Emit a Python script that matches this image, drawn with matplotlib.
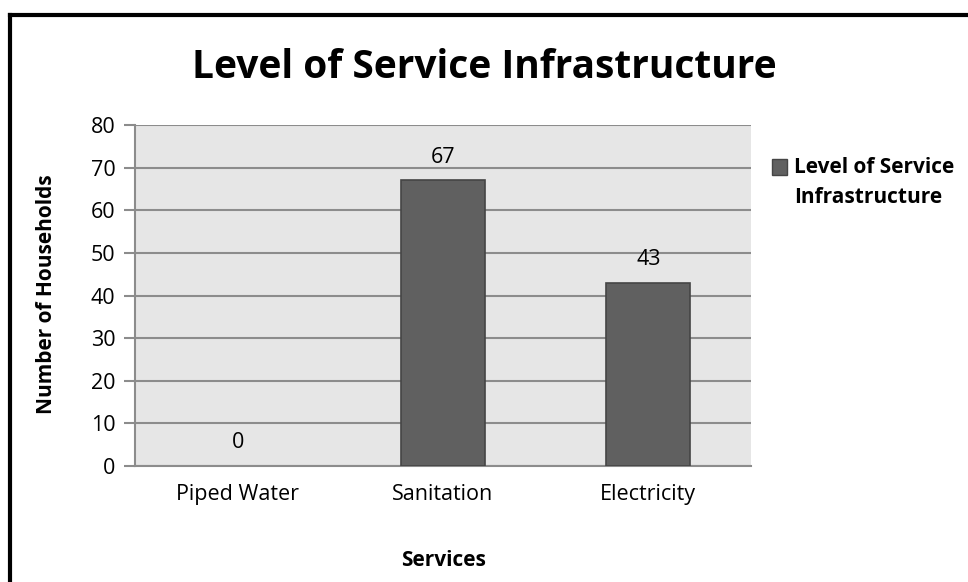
import matplotlib
matplotlib.use("Agg")
import matplotlib.pyplot as plt
from matplotlib.lines import Line2D
from matplotlib.patches import Patch, Rectangle
from matplotlib.legend_handler import HandlerPatch

categories = ["Piped Water", "Sanitation", "Electricity"]
households = [0, 67, 43]
series_name = "Level of Service\nInfrastructure"
title = "Level of Service Infrastructure"
y_ticks = [0, 10, 20, 30, 40, 50, 60, 70, 80]

plt.rcParams['font.family'] = ['Open Sans', 'DejaVu Sans']

W, H = 968, 582
fig = plt.figure(figsize=(W / 100, H / 100), dpi=100)
fig.patch.set_facecolor("white")

# plot area in pixel coordinates
left, right, top, bottom = 135, 751, 125, 466
ax = fig.add_axes([left / W, 1 - bottom / H, (right - left) / W, (bottom - top) / H])
ax.set_facecolor("#e6e6e6")

bar_color, bar_edge = "#606060", "#454545"
x = range(len(categories))
bars = ax.bar(x, households, width=0.41, color=bar_color, edgecolor=bar_edge,
              linewidth=1.2, zorder=3)
for b, v in zip(bars, households):
    if v == 0:
        b.set_linewidth(0)
ax.set_xlim(-0.5, len(categories) - 0.5)
ax.set_ylim(0, 80)
ax.set_yticks(y_ticks)
ax.set_xticks(list(x))
ax.set_xticklabels(categories, fontsize=15.5)
ax.tick_params(axis="y", labelsize=15.5, length=8, color="#8c8c8c", width=1.5, pad=6)
ax.tick_params(axis="x", length=0, pad=13)
ax.grid(axis="y", color="#8c8c8c", linewidth=1.5, zorder=1)
for side in ("top", "right"):
    ax.spines[side].set_visible(False)
for side in ("left", "bottom"):
    ax.spines[side].set_color("#8c8c8c")
    ax.spines[side].set_linewidth(1.5)

for xi, v in zip(x, households):
    ax.annotate(str(v), (xi, v), xytext=(0, 9), textcoords="offset points",
                ha="center", va="bottom", fontsize=15.5)

fig.text(484 / W, 1 - 68 / H, title, ha="center", va="center",
         fontsize=28, fontweight="bold")
fig.text(47 / W, 1 - 294 / H, "Number of Households", rotation=90,
         ha="center", va="center", fontsize=15, fontweight="bold")
fig.text(443 / W, 1 - 561 / H, "Services", ha="center", va="center",
         fontsize=15, fontweight="bold")


def top_aligned_square(legend, orig_handle, xdescent, ydescent, width, height, fontsize):
    # keep the legend key level with the first line of a two-line label
    return Rectangle((-xdescent, -ydescent + 0.78 * fontsize), width, height)


leg = fig.legend(handles=[Patch(facecolor=bar_color, edgecolor=bar_edge)],
                 labels=[series_name], loc="upper left",
                 bbox_to_anchor=(753 / W, 1 - 138 / H), frameon=False,
                 handlelength=0.75, handleheight=0.75, handletextpad=0.3,
                 prop={"weight": "bold", "size": 15},
                 handler_map={Patch: HandlerPatch(patch_func=top_aligned_square)})
for t in leg.get_texts():
    t.set_linespacing(1.6)

# outer frame
fig.add_artist(Line2D([10 / W, 10 / W], [0, 1 - 15 / H], color="black", lw=3,
                      transform=fig.transFigure))
fig.add_artist(Line2D([10 / W, 1], [1 - 15 / H, 1 - 15 / H], color="black", lw=3,
                      transform=fig.transFigure))

fig.savefig("out.png", dpi=100)
